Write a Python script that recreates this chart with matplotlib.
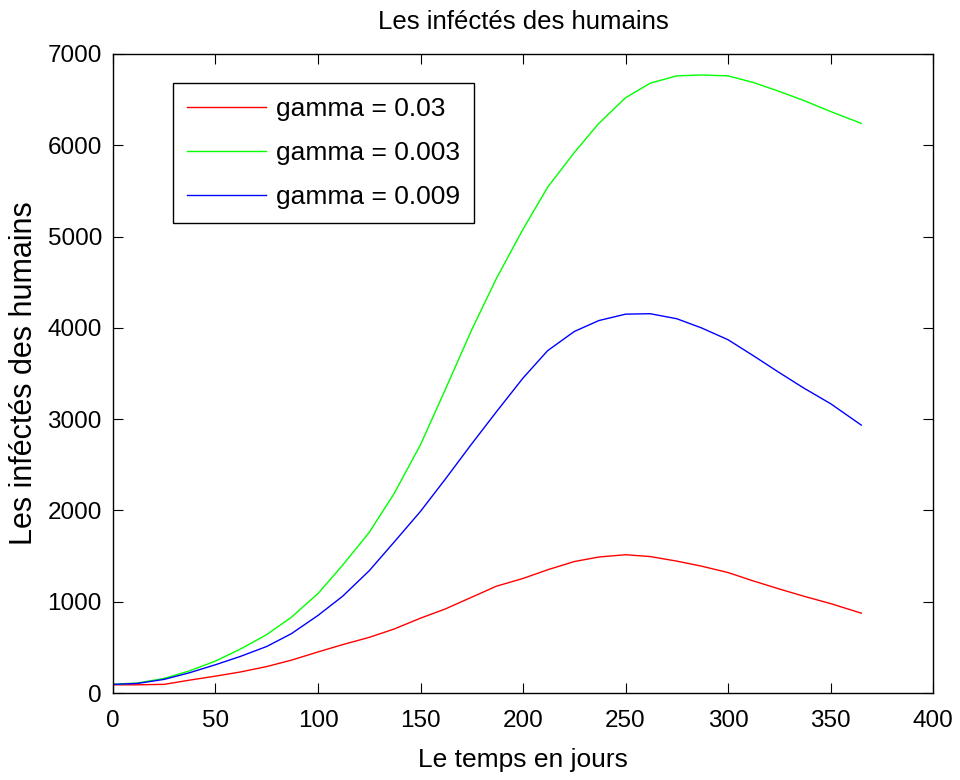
import matplotlib
matplotlib.use('Agg')
import matplotlib.pyplot as plt

# values
days = [0, 12, 25, 37, 50, 62, 75, 87, 100, 112, 125, 137, 150, 162, 175,
        187, 200, 212, 225, 237, 250, 262, 275, 287, 300, 312, 325, 337, 350, 365]

inf_003 = [90, 90, 95, 140, 185, 230, 290, 360, 450, 530, 610, 700, 820, 920, 1050,
           1170, 1255, 1350, 1440, 1490, 1515, 1495, 1445, 1390, 1320, 1230, 1140, 1060, 980, 875]

inf_0003 = [95, 110, 160, 240, 350, 480, 640, 830, 1090, 1400, 1760, 2180, 2720, 3320, 3980,
            4540, 5080, 5540, 5920, 6240, 6520, 6680, 6760, 6770, 6760, 6690, 6590, 6490, 6370, 6240]

inf_0009 = [95, 105, 150, 220, 310, 400, 510, 650, 850, 1060, 1340, 1650, 1990, 2340, 2730,
            3080, 3450, 3750, 3960, 4080, 4150, 4155, 4100, 4000, 3870, 3700, 3510, 3340, 3170, 2935]

labels = ['gamma = 0.03', 'gamma = 0.003', 'gamma = 0.009']
xticks = [0, 50, 100, 150, 200, 250, 300, 350, 400]
yticks = [0, 1000, 2000, 3000, 4000, 5000, 6000, 7000]

plt.rcParams['font.family'] = ['Liberation Sans', 'DejaVu Sans']

fig = plt.figure(figsize=(9.6, 7.8), dpi=100)
ax = fig.add_axes([0.1177, 0.1115, 0.8542, 0.8193])

ax.plot(days, inf_003, color=(1, 0, 0), lw=1.0, label=labels[0])
ax.plot(days, inf_0003, color=(0, 1, 0), lw=1.0, label=labels[1])
ax.plot(days, inf_0009, color=(0, 0, 1), lw=1.0, label=labels[2])

ax.set_xlim(0, 400)
ax.set_ylim(0, 7000)
ax.set_xticks(xticks)
ax.set_yticks(yticks)
ax.tick_params(direction='in', length=7, width=0.8, top=True, right=True,
               labelsize=17.5)
ax.tick_params(axis='x', pad=12)
ax.tick_params(axis='y', pad=8)
for sp in ax.spines.values():
    sp.set_linewidth(1.0)

ax.set_title('Les inféctés des humains', fontsize=18.5, pad=18)
ax.set_xlabel('Le temps en jours', fontsize=19, labelpad=12)
ax.set_ylabel('Les inféctés des humains', fontsize=22, labelpad=6)

leg = ax.legend(loc='upper left', bbox_to_anchor=(0.0728, 0.955), borderaxespad=0,
                fontsize=19, handlelength=3.0, handletextpad=0.35, labelspacing=0.75,
                fancybox=False, framealpha=1, edgecolor='black', borderpad=0.55)
leg.get_frame().set_linewidth(1.0)

fig.savefig('out.png', dpi=100)
